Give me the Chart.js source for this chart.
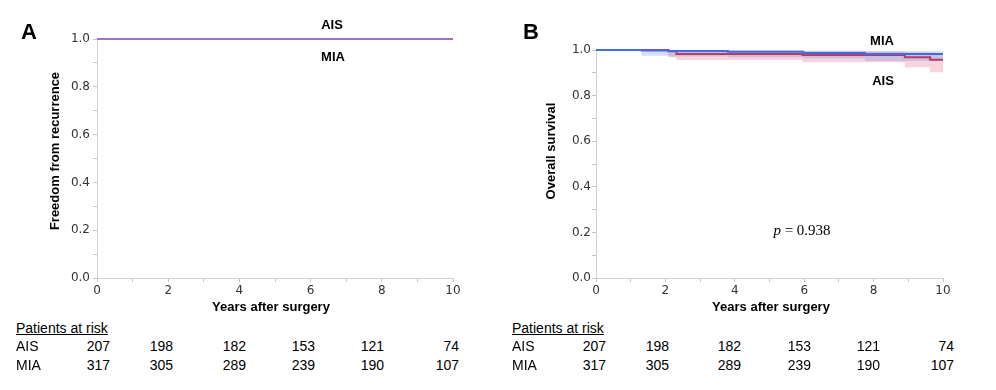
<!DOCTYPE html>
<html><head><meta charset="utf-8">
<script src="https://cdn.jsdelivr.net/npm/chart.js@4.4.1/dist/chart.umd.min.js"></script>
<style>
html,body{margin:0;padding:0;background:#fff;}
#wrap{position:relative;width:996px;height:390px;overflow:hidden;font-family:"Liberation Sans",Arial,sans-serif;color:#000;}
canvas{position:absolute;top:0;}
.t{position:absolute;line-height:1;white-space:nowrap;}
</style></head><body><div id="wrap">
<canvas id="cA" width="480" height="300" style="left:0px"></canvas>
<canvas id="cB" width="498" height="300" style="left:498px"></canvas>
</div>
<script>
// ---------- data ----------
const riskYears = [0, 2, 4, 6, 8, 10];
const riskAIS = [207, 198, 182, 153, 121, 74];
const riskMIA = [317, 305, 289, 239, 190, 107];

// Panel A: freedom from recurrence (no events in either group)
const recTimes = [0, 10];
const recAIS = [1.0, 1.0];
const recMIA = [1.0, 1.0];

// Panel B: overall survival (Kaplan-Meier steps with confidence bands)
const osMIATimes = [0, 1.32, 2.1, 3.8, 5.97, 7.75, 10];
const osMIA      = [1.0, 0.998, 0.996, 0.992, 0.987, 0.982, 0.982];
const osMIALow   = [1.0, 0.975, 0.972, 0.968, 0.963, 0.952, 0.952];
const osMIAHigh  = [1.0, 1.0, 1.0, 0.999, 0.997, 0.994, 0.994];
const osAISTimes = [0, 2.08, 2.32, 5.95, 8.9, 9.63, 10];
const osAIS      = [1.0, 0.994, 0.983, 0.978, 0.968, 0.957, 0.957];
const osAISLow   = [1.0, 0.968, 0.956, 0.946, 0.924, 0.902, 0.902];
const osAISHigh  = [1.0, 1.0, 0.997, 0.994, 0.989, 0.983, 0.983];

const groupNames = ['AIS', 'MIA'];
const pText = '0.938';

// ---------- helpers ----------
const pts = (xs, ys) => xs.map((x, i) => ({x: x, y: ys[i]}));
const wrap = document.getElementById('wrap');
function label(text, x, y, o) {
  o = o || {};
  const d = document.createElement('div');
  d.className = 't';
  d.textContent = text;
  d.style.left = x + 'px';
  d.style.top = y + 'px';
  d.style.fontSize = (o.size || 13) + 'px';
  d.style.fontWeight = o.bold ? 'bold' : 'normal';
  if (o.family) d.style.fontFamily = o.family;
  if (o.underline) d.style.textDecoration = 'underline';
  const ax = o.align === 'l' ? '0' : (o.align === 'r' ? '-100%' : '-50%');
  d.style.transform = 'translate(' + ax + ',-50%)' + (o.rotate ? ' rotate(-90deg)' : '');
  if (o.html) d.innerHTML = o.html;
  wrap.appendChild(d);
  return d;
}

const tickFont = {family: 'DejaVu Sans', size: 12};
function scales(yw, yPad, xh) {
  const grid = {drawOnChartArea: false, drawTicks: true, tickLength: 4, color: '#c4c4c4'};
  const border = {display: true, color: '#d2d2d2', width: 1};
  return {
    x: {type: 'linear', min: 0, max: 10,
      afterFit(s) { s.height = xh; },
      grid: grid, border: border,
      ticks: {stepSize: 1, autoSkip: false, maxRotation: 0, padding: 2, color: '#333', font: tickFont,
        callback: v => (Math.round(v) % 2 === 0 ? String(Math.round(v)) : '')}},
    y: {type: 'linear', min: 0, max: 1,
      afterFit(s) { s.width = yw; },
      grid: grid, border: border,
      ticks: {stepSize: 0.1, autoSkip: false, padding: yPad, color: '#333', font: tickFont,
        callback: v => { const k = Math.round(v * 10); return k % 2 === 0 ? (k / 10).toFixed(1) : ''; }}}
  };
}
const common = {
  responsive: false, animation: false, devicePixelRatio: 1,
  plugins: {legend: {display: false}, tooltip: {enabled: false}}
};

// ---------- Panel A ----------
const purple = 'rgb(156,114,188)';
new Chart(document.getElementById('cA'), {
  type: 'line',
  data: {datasets: [
    {label: groupNames[0], data: pts(recTimes, recAIS), borderColor: purple, borderWidth: 2, pointRadius: 0, stepped: 'before', clip: false, fill: false},
    {label: groupNames[1], data: pts(recTimes, recMIA), borderColor: purple, borderWidth: 2, pointRadius: 0, stepped: 'before', clip: false, fill: false}
  ]},
  options: Object.assign({}, common, {
    layout: {padding: {left: 0, right: 27, top: 39, bottom: 0}},
    scales: scales(97, 3, 22)
  })
});

// ---------- Panel B ----------
const blue = 'rgb(66,106,226)';
const red = 'rgb(178,62,96)';
new Chart(document.getElementById('cB'), {
  type: 'line',
  data: {datasets: [
    {label: groupNames[1], data: pts(osMIATimes, osMIA), borderColor: blue, borderWidth: 2, pointRadius: 0, stepped: 'before', clip: false, fill: false, order: 0},
    {label: groupNames[0], data: pts(osAISTimes, osAIS), borderColor: red, borderWidth: 2, pointRadius: 0, stepped: 'before', clip: false, fill: false, order: 1},
    {label: 'MIA upper', data: pts(osMIATimes, osMIAHigh), borderWidth: 0, borderColor: 'rgba(0,0,0,0)', pointRadius: 0, stepped: 'before', clip: false, fill: 3, backgroundColor: 'rgba(120,150,235,0.33)', order: 3},
    {label: 'MIA lower', data: pts(osMIATimes, osMIALow), borderWidth: 0, borderColor: 'rgba(0,0,0,0)', pointRadius: 0, stepped: 'before', clip: false, fill: false, order: 4},
    {label: 'AIS upper', data: pts(osAISTimes, osAISHigh), borderWidth: 0, borderColor: 'rgba(0,0,0,0)', pointRadius: 0, stepped: 'before', clip: false, fill: 5, backgroundColor: 'rgba(236,140,162,0.38)', order: 5},
    {label: 'AIS lower', data: pts(osAISTimes, osAISLow), borderWidth: 0, borderColor: 'rgba(0,0,0,0)', pointRadius: 0, stepped: 'before', clip: false, fill: false, order: 6}
  ]},
  options: Object.assign({}, common, {
    layout: {padding: {left: 0, right: 53, top: 50, bottom: 0}},
    scales: scales(98, 1, 22)
  })
});

// ---------- text ----------
label('A', 29, 32, {size: 22, bold: true});
label('B', 531, 32, {size: 22, bold: true});
label(groupNames[0], 332, 24, {bold: true});
label(groupNames[1], 333, 56, {bold: true});
label(groupNames[1], 882, 40, {bold: true});
label(groupNames[0], 883, 80, {bold: true});
label('', 802, 230, {size: 15, family: '"Liberation Serif","Times New Roman",serif', html: '<i>p</i> = ' + pText});
label('Freedom from recurrence', 54, 151, {bold: true, rotate: true});
label('Overall survival', 549.5, 151, {bold: true, rotate: true});
label('Years after surgery', 271, 306, {bold: true});
label('Years after surgery', 771, 306, {bold: true});

const colA = [110, 173, 246, 315, 384, 459];
const colB = [606, 669, 741, 811, 880, 954];
[[16, colA], [512, colB]].forEach(([lx, cols]) => {
  label('Patients at risk', lx, 328, {size: 14, align: 'l', underline: true});
  label(groupNames[0], lx, 346, {size: 14, align: 'l'});
  label(groupNames[1], lx, 365, {size: 14, align: 'l'});
  riskYears.forEach((yr, i) => {
    label(String(riskAIS[i]), cols[i], 346, {size: 14, align: 'r'});
    label(String(riskMIA[i]), cols[i], 365, {size: 14, align: 'r'});
  });
});
</script></body></html>
